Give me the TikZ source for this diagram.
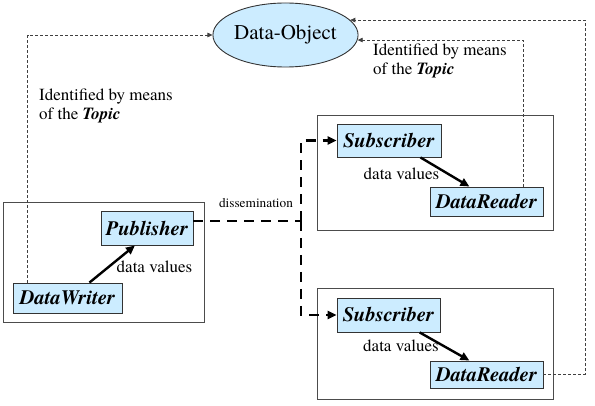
\documentclass[tikz,border=0pt]{standalone}
\usepackage{fontspec}
\setmainfont{texgyretermes}[Extension=.otf, UprightFont=*-regular, BoldFont=*-bold, ItalicFont=*-italic, BoldItalicFont=*-bolditalic]
\usetikzlibrary{arrows.meta,calc,shapes.geometric}
\definecolor{boxblue}{HTML}{CCECFF}
\begin{document}
\begin{tikzpicture}[x=1pt,y=-1pt,
  comp/.style={draw=black!80, fill=boxblue, line width=0.9pt, inner sep=0,
    font=\fontsize{20.5}{24}\selectfont\bfseries\itshape},
  frame/.style={draw=black!70, line width=0.8pt, inner sep=0},
  lbl/.style={inner sep=0, font=\fontsize{17}{19}\selectfont},
  topicref/.style={draw=black!75, line width=0.7pt, dash pattern=on 3pt off 2pt,
    -{Triangle[length=5pt,width=4.5pt]}},
  flow/.style={line width=2.4pt, -{Triangle[length=9pt,width=8pt]}},
  dissem/.style={line width=2.6pt, dash pattern=on 10pt off 7pt},
  dissemarrow/.style={dissem, -{Triangle[length=9pt,width=8pt]}},
]
\useasboundingbox (0,0) rectangle (595,406);

% outer frames
\node[frame, minimum width=201pt, minimum height=120pt] (lbox) at (103.5,262) {};
\node[frame, minimum width=236pt, minimum height=115pt] (rbox1) at (435,172.5) {};
\node[frame, minimum width=236pt, minimum height=111pt] (rbox2) at (435,343.5) {};

% data object
\node[ellipse, draw=black!80, fill=boxblue, line width=0.9pt, inner sep=0,
  minimum width=135pt, minimum height=64pt, font=\fontsize{21}{25}\selectfont] (obj) at (285.5,35) {Data-Object};

% components
\node[comp, minimum width=92pt, minimum height=34pt] (pub) at (147,228) {Publisher};
\node[comp, minimum width=109pt, minimum height=30pt] (dw) at (67.5,298) {DataWriter};
\node[comp, minimum width=104pt, minimum height=33pt] (sub1) at (389,140.5) {Subscriber};
\node[comp, minimum width=113pt, minimum height=29pt] (dr1) at (486.5,201.5) {DataReader};
\node[comp, minimum width=103pt, minimum height=34pt] (sub2) at (388.5,315) {Subscriber};
\node[comp, minimum width=113pt, minimum height=27pt] (dr2) at (486.5,374.5) {DataReader};

% labels
\node[lbl, anchor=north west, align=left] (tl) at (39,88.5) {Identified by means\\of the \textbf{\textit{Topic}}};
\node[lbl, anchor=north west, align=left] (tr) at (373,43.5) {Identified by means\\of the \textbf{\textit{Topic}}};
\node[lbl, anchor=base] (dv1) at (154.5,273) {data values};
\node[lbl, anchor=base] (dv2) at (401.5,180) {data values};
\node[lbl, anchor=base] (dv3) at (401,352) {data values};
\node[inner sep=0, anchor=base, font=\fontsize{13.3}{16}\selectfont] (dis) at (256,208) {dissemination};

% data value arrows
\draw[flow] ($(dw.north west)!0.7!(dw.north east)$) -- ($(pub.south west)!0.37!(pub.south east)$);
\draw[flow] ($(sub1.south west)!0.8!(sub1.south east)$) -- ($(dr1.north west)!0.35!(dr1.north east)$);
\draw[flow] ($(sub2.south west)!0.8!(sub2.south east)$) -- ($(dr2.north west)!0.35!(dr2.north east)$);

% dissemination
\coordinate (trunk) at (301,221);
\draw[dissem] ($(pub.east)+(0,-7)$) -- (trunk);
\draw[dissemarrow] (trunk) |- (sub1.west);
\draw[dissemarrow] (trunk) |- (sub2.west);

% topic references
\draw[topicref] ($(dw.north west)+(15,0)$) |- (obj.west);
\draw[topicref] ($(dr1.north east)+(-20,0)$) |- (obj.-4);
\coordinate (rc) at (585,374.5);
\draw[topicref] (dr2.east) -- (rc) |- (obj.13);
\end{tikzpicture}
\end{document}
